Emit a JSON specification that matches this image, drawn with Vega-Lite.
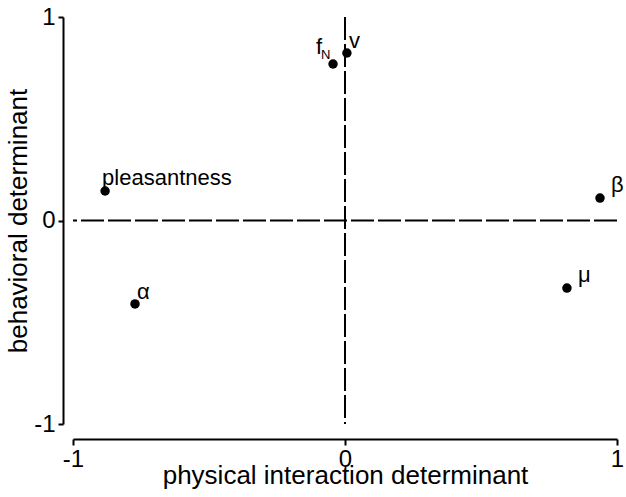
{
  "$schema": "https://vega.github.io/schema/vega-lite/v6.json",
  "width": 544,
  "height": 407,
  "autosize": {"type": "none"},
  "padding": {"left": 73, "top": 17, "right": 9, "bottom": 73},
  "config": {
    "view": {"stroke": null},
    "font": "Liberation Sans",
    "axis": {
      "grid": false,
      "domainColor": "black",
      "tickColor": "black",
      "labelColor": "black",
      "titleColor": "black",
      "labelFont": "Liberation Sans",
      "titleFont": "Liberation Sans",
      "labelFontSize": 24,
      "titleFontSize": 26,
      "titleFontWeight": "normal",
      "domainWidth": 2,
      "tickWidth": 2,
      "labelFlush": false,
      "labelExpr": "'' + datum.value"
    }
  },
  "data": {
    "values": [
      {"x": -0.882, "y": 0.145, "label": "pleasantness"},
      {"x": -0.772, "y": -0.41, "label": "α"},
      {"x": -0.044, "y": 0.769, "label": "f", "sub": "N"},
      {"x": 0.007, "y": 0.823, "label": "v"},
      {"x": 0.9375, "y": 0.11, "label": "β"},
      {"x": 0.816, "y": -0.332, "label": "μ"}
    ]
  },
  "layer": [
    {
      "data": {"values": [{"x": 0}]},
      "mark": {"type": "rule", "strokeDash": [23, 4], "strokeWidth": 2, "color": "black"},
      "encoding": {
        "x": {"field": "x", "type": "quantitative", "scale": {"domain": [-1, 1], "nice": false, "zero": false}}
      }
    },
    {
      "data": {"values": [{"y": 0}]},
      "mark": {"type": "rule", "strokeDash": [23, 4], "strokeWidth": 2, "color": "black"},
      "encoding": {
        "y": {"field": "y", "type": "quantitative", "scale": {"domain": [-1, 1], "nice": false, "zero": false}}
      }
    },
    {
      "mark": {"type": "point", "filled": true, "size": 90, "color": "black", "opacity": 1},
      "encoding": {
        "x": {
          "field": "x", "type": "quantitative",
          "scale": {"domain": [-1, 1], "nice": false, "zero": false},
          "axis": {"values": [-1, 0, 1], "title": "physical interaction determinant", "offset": 15, "tickSize": 6, "labelPadding": 2, "titlePadding": -9}
        },
        "y": {
          "field": "y", "type": "quantitative",
          "scale": {"domain": [-1, 1], "nice": false, "zero": false},
          "axis": {"values": [-1, 0, 1], "title": "behavioral determinant", "offset": 10, "tickSize": 5, "labelPadding": 3, "titlePadding": 2}
        }
      }
    },
    {
      "transform": [{"filter": "datum.label === 'pleasantness'"}],
      "mark": {"type": "text", "align": "left", "baseline": "alphabetic", "dx": -3, "dy": -6, "fontSize": 22, "color": "black", "font": "Liberation Sans"},
      "encoding": {
        "x": {"field": "x", "type": "quantitative"},
        "y": {"field": "y", "type": "quantitative"},
        "text": {"field": "label"}
      }
    },
    {
      "transform": [{"filter": {"field": "label", "oneOf": ["α", "v"]}}],
      "mark": {"type": "text", "align": "left", "baseline": "alphabetic", "dx": 2, "dy": -5, "fontSize": 22, "color": "black", "font": "Liberation Sans"},
      "encoding": {
        "x": {"field": "x", "type": "quantitative"},
        "y": {"field": "y", "type": "quantitative"},
        "text": {"field": "label"}
      }
    },
    {
      "transform": [{"filter": {"field": "label", "oneOf": ["β", "μ"]}}],
      "mark": {"type": "text", "align": "left", "baseline": "alphabetic", "dx": 11, "dy": -6, "fontSize": 22, "color": "black", "font": "Liberation Sans"},
      "encoding": {
        "x": {"field": "x", "type": "quantitative"},
        "y": {"field": "y", "type": "quantitative"},
        "text": {"field": "label"}
      }
    },
    {
      "transform": [{"filter": "datum.label === 'f'"}],
      "mark": {"type": "text", "align": "right", "baseline": "alphabetic", "dx": -11, "dy": -10, "fontSize": 22, "color": "black", "font": "Liberation Sans"},
      "encoding": {
        "x": {"field": "x", "type": "quantitative"},
        "y": {"field": "y", "type": "quantitative"},
        "text": {"field": "label"}
      }
    },
    {
      "transform": [{"filter": "datum.sub"}],
      "mark": {"type": "text", "align": "left", "baseline": "alphabetic", "dx": -12, "dy": -5, "fontSize": 13, "color": "black", "font": "Liberation Sans"},
      "encoding": {
        "x": {"field": "x", "type": "quantitative"},
        "y": {"field": "y", "type": "quantitative"},
        "text": {"field": "sub"}
      }
    }
  ]
}
